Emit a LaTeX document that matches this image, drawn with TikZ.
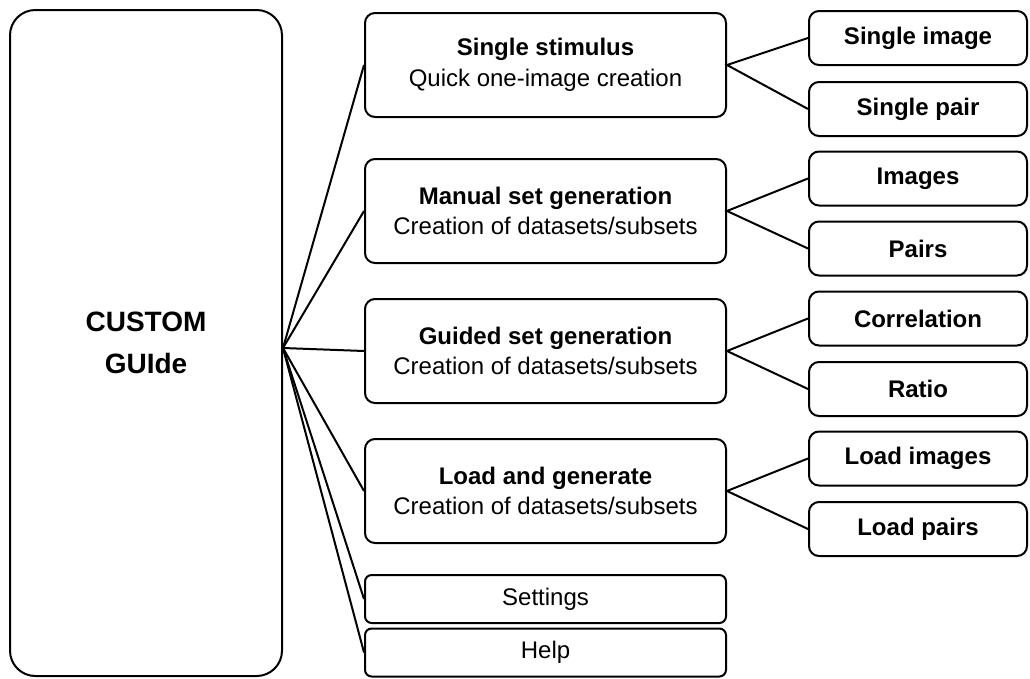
\documentclass[tikz,border=0pt]{standalone}
\usepackage{fontspec}
\setmainfont{Liberation Sans}
\usetikzlibrary{positioning}

\begin{document}
\begin{tikzpicture}[x=0.75pt, y=-0.75pt, line width=1.5pt,
    box/.style={draw, rounded corners=7.5pt, align=center, inner sep=0pt},
    catbox/.style={box, minimum width=270.75pt, minimum height=78pt, font={\fontsize{18}{23}\selectfont}},
    barbox/.style={box, minimum width=270.75pt, minimum height=36pt, rounded corners=5pt},
    leafbox/.style={box, minimum width=163.5pt, minimum height=40.5pt, font={\bfseries\fontsize{18}{18.5}\selectfont}},
    font={\fontsize{18}{18.5}\selectfont}]
    \useasboundingbox (0,0) rectangle (1030,678);

    \node[box, minimum width=204pt, minimum height=499.5pt, rounded corners=19pt,
      font={\bfseries\fontsize{21}{31}\selectfont}] (main) at (146,343) {CUSTOM\\GUIde};
    \coordinate (hub) at ([yshift=-3.75pt] main.east);

    \node[catbox] (stim) at (545.5,65) {{\bfseries Single stimulus}\\Quick one-image creation};
    \node[catbox] (manual) at (545.5,211) {{\bfseries Manual set generation}\\Creation of datasets/subsets};
    \node[catbox] (guided) at (545.5,351) {{\bfseries Guided set generation}\\Creation of datasets/subsets};
    \node[catbox] (load) at (545.5,491) {{\bfseries Load and generate}\\Creation of datasets/subsets};
    \node[barbox] (settings) at (545.5,599) {Settings};
    \node[barbox] (help) at (545.5,652.5) {Help};

    \node[leafbox] (simage) at (918,38) {Single image};
    \node[leafbox] (spair) at (918,109) {Single pair};
    \node[leafbox] (images) at (918,178.5) {Images};
    \node[leafbox] (pairs) at (918,248.5) {Pairs};
    \node[leafbox] (corr) at (918,318.5) {Correlation};
    \node[leafbox] (ratio) at (918,389) {Ratio};
    \node[leafbox] (limages) at (918,458.5) {Load images};
    \node[leafbox] (lpairs) at (918,529) {Load pairs};

    % hub to the menu entries
    \draw (hub) -- (stim.west);
    \draw (hub) -- (manual.west);
    \draw (hub) -- (guided.west);
    \draw (hub) -- (load.west);
    \draw (hub) -- (settings.west);
    \draw (hub) -- (help.west);

    % sub entries
    \draw (simage.west) -- (stim.east) -- (spair.west);
    \draw (images.west) -- (manual.east) -- (pairs.west);
    \draw (corr.west) -- (guided.east) -- (ratio.west);
    \draw (limages.west) -- (load.east) -- (lpairs.west);
  \end{tikzpicture}
\end{document}
